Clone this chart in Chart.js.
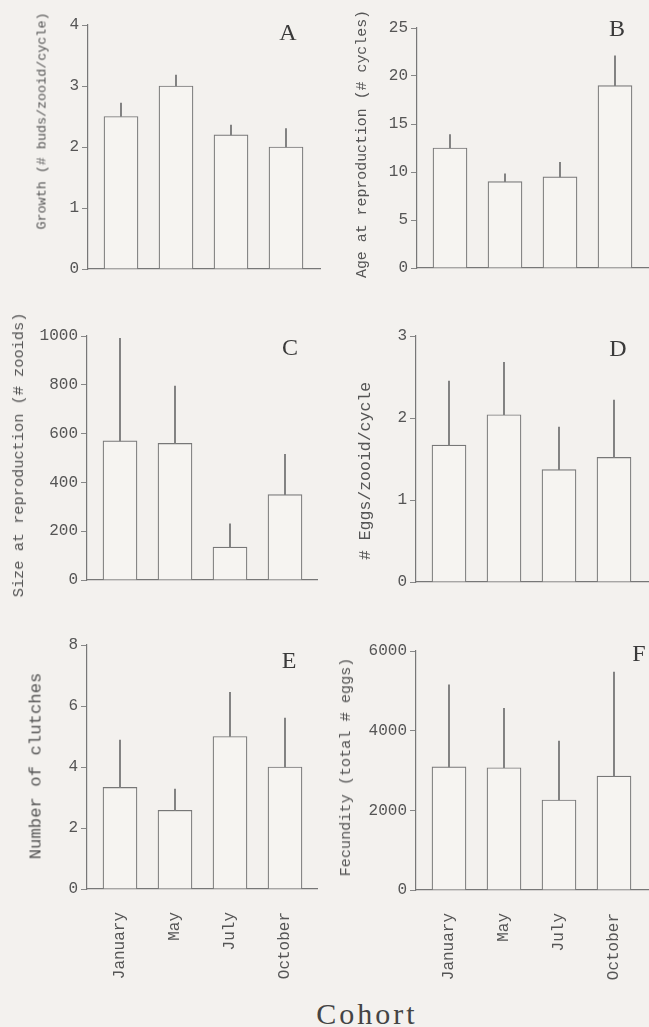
<!DOCTYPE html>
<html>
<head>
<meta charset="utf-8">
<script src="https://cdn.jsdelivr.net/npm/chart.js@4.4.0/dist/chart.umd.min.js"></script>
<style>
  body { margin: 0; background: #f3f1ee; width: 649px; height: 1027px; overflow: hidden; position: relative; font-family: "Liberation Mono", monospace; color: #555; }
  canvas { position: absolute; }
  .ytitle { position: absolute; white-space: nowrap; transform: translate(-50%, -50%) rotate(-90deg); color: #555; }
  .letra { position: absolute; font-family: "Liberation Serif", serif; font-size: 24px; color: #3a3a3a; transform: translate(-50%, -50%); }
  #cohort { position: absolute; left: 367px; top: 1014px; transform: translate(-50%, -50%); font-family: "Liberation Serif", serif; font-size: 30px; letter-spacing: 3px; color: #444; }
</style>
</head>
<body>
<canvas id="panelA"></canvas>
<canvas id="panelB"></canvas>
<canvas id="panelC"></canvas>
<canvas id="panelD"></canvas>
<canvas id="panelE"></canvas>
<canvas id="panelF"></canvas>

<div class="ytitle" style="left:42px;top:121px;font-size:13.4px">Growth (# buds/zooid/cycle)</div>
<div class="ytitle" style="left:362px;top:144px;font-size:14.9px">Age at reproduction (# cycles)</div>
<div class="ytitle" style="left:19px;top:455px;font-size:15.3px">Size at reproduction (# zooids)</div>
<div class="ytitle" style="left:365px;top:471px;font-size:16.5px"># Eggs/zooid/cycle</div>
<div class="ytitle" style="left:36px;top:766px;font-size:17.3px">Number of clutches</div>
<div class="ytitle" style="left:346px;top:767px;font-size:15.2px">Fecundity (total # eggs)</div>

<div class="letra" style="left:288px;top:32px">A</div>
<div class="letra" style="left:617px;top:28px">B</div>
<div class="letra" style="left:290px;top:347px">C</div>
<div class="letra" style="left:618px;top:348px">D</div>
<div class="letra" style="left:289px;top:660px">E</div>
<div class="letra" style="left:639px;top:653px">F</div>

<div id="cohort">Cohort</div>

<script>
const cohorts = ['January', 'May', 'July', 'October']

const growthMean = [2.5, 3.0, 2.2, 2.0]
const growthErr = [0.22, 0.18, 0.16, 0.3]
const growthTicks = [0, 1, 2, 3, 4]

const ageMean = [12.5, 9.0, 9.5, 19.0]
const ageErr = [1.4, 0.8, 1.5, 3.1]
const ageTicks = [0, 5, 10, 15, 20, 25]

const sizeMean = [570, 560, 135, 350]
const sizeErr = [420, 235, 95, 165]
const sizeTicks = [0, 200, 400, 600, 800, 1000]

const eggsMean = [1.67, 2.04, 1.37, 1.52]
const eggsErr = [0.78, 0.64, 0.52, 0.7]
const eggsTicks = [0, 1, 2, 3]

const clutchMean = [3.33, 2.58, 5.0, 4.0]
const clutchErr = [1.55, 0.7, 1.45, 1.6]
const clutchTicks = [0, 2, 4, 6, 8]

const fecundMean = [3090, 3070, 2260, 2860]
const fecundErr = [2060, 1490, 1480, 2610]
const fecundTicks = [0, 2000, 4000, 6000]

const gris = '#777'

function crearPanel (id, mean, err, yTicks, box, conMeses) {
    const canvas = document.getElementById(id)
    canvas.width = box.w
    canvas.height = box.h
    canvas.style.left = box.x + 'px'
    canvas.style.top = box.y + 'px'

    // 55 px between bar centres, first centre 33 px right of the axis
    const paso = 55
    const xMin = -33 / paso
    const xMax = xMin + (box.right - box.axis) / paso

    const datasets = [{
        data: mean.map((m, i) => ({ x: i, y: m })),
        backgroundColor: '#f6f4f1',
        borderColor: gris,
        borderWidth: 1.2,
        barThickness: 34,
        grouped: false,
        order: 2
    }, {
        data: mean.map((m, i) => ({ x: i, y: [m, m + err[i]] })),
        backgroundColor: '#808080',
        borderWidth: 0,
        barThickness: 1.3,
        grouped: false,
        order: 1
    }]

    const config = {
        type: 'bar',
        data: { datasets },
        options: {
            responsive: false,
            animation: false,
            layout: { padding: { top: box.top - box.y, right: box.x + box.w - box.right, left: 0, bottom: 0 } },
            plugins: { legend: { display: false }, tooltip: { enabled: false } },
            scales: {
                x: {
                    type: 'linear',
                    offset: false,
                    min: xMin,
                    max: xMax,
                    grid: { display: false },
                    border: { color: gris, width: 1.2 },
                    afterBuildTicks: s => { s.ticks = cohorts.map((c, i) => ({ value: i })) },
                    afterFit: s => { s.height = box.y + box.h - box.bottom },
                    ticks: {
                        display: conMeses,
                        minRotation: 90,
                        maxRotation: 90,
                        padding: 15,
                        font: { family: 'Liberation Mono', size: 16 },
                        color: '#555',
                        callback: v => cohorts[v]
                    }
                },
                y: {
                    min: yTicks[0],
                    max: yTicks[yTicks.length - 1],
                    afterBuildTicks: s => { s.ticks = yTicks.map(v => ({ value: v })) },
                    afterFit: s => { s.width = box.axis - box.x },
                    grid: { drawOnChartArea: false, tickLength: 6, color: '#888' },
                    border: { color: gris, width: 1.2 },
                    ticks: { padding: 3, font: { family: 'Liberation Mono', size: 16 }, color: '#555', callback: v => String(v) }
                }
            }
        }
    }

    return new Chart(canvas, config)
}

crearPanel('panelA', growthMean, growthErr, growthTicks, { x: 0, y: 0, w: 325, h: 300, axis: 88, top: 25, bottom: 269, right: 320 }, false)
crearPanel('panelB', ageMean, ageErr, ageTicks, { x: 325, y: 0, w: 324, h: 300, axis: 417, top: 28, bottom: 268, right: 649 }, false)
crearPanel('panelC', sizeMean, sizeErr, sizeTicks, { x: 0, y: 300, w: 325, h: 310, axis: 87, top: 336, bottom: 580, right: 317 }, false)
crearPanel('panelD', eggsMean, eggsErr, eggsTicks, { x: 325, y: 300, w: 324, h: 310, axis: 416, top: 336, bottom: 582, right: 649 }, false)
crearPanel('panelE', clutchMean, clutchErr, clutchTicks, { x: 0, y: 610, w: 325, h: 380, axis: 87, top: 645, bottom: 889, right: 317 }, true)
crearPanel('panelF', fecundMean, fecundErr, fecundTicks, { x: 325, y: 610, w: 324, h: 380, axis: 416, top: 651, bottom: 890, right: 649 }, true)
</script>
</body>
</html>
